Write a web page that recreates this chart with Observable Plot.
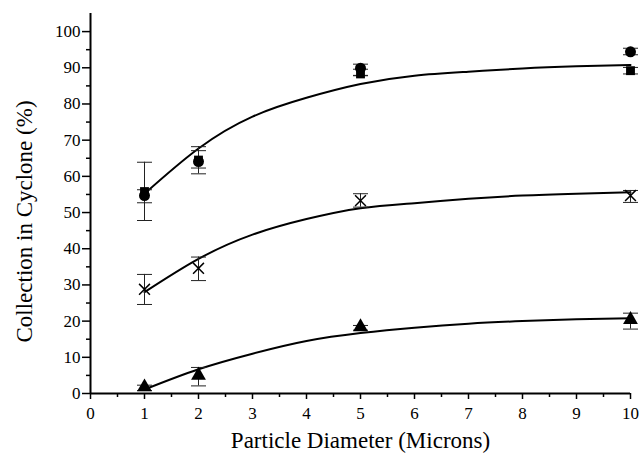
<!DOCTYPE html>
<html>
<head>
<meta charset="utf-8">
<script src="https://cdn.jsdelivr.net/npm/d3@7"></script>
<script src="https://cdn.jsdelivr.net/npm/@observablehq/plot@0.6"></script>
<style>
  html, body { margin: 0; padding: 0; background: #fff; }
  #chart svg, #chart svg text { font-family: "Liberation Serif", "Times New Roman", Tinos, "DejaVu Serif", "Noto Serif", serif !important; }
</style>
</head>
<body>
<div id="chart"></div>
<script>
// Particle diameters (microns)
const diameters = [1, 2, 5, 10];

// Measured collection (%) with error-bar limits, four symbol series
const circleY  = [54.7, 64.1, 89.9, 94.4];
const circleLo = [47.8, 60.7, 87.9, 93.6];
const circleHi = [63.9, 68.2, 91.0, 95.4];

const squareY  = [55.8, 64.5, 88.3, 89.2];
const squareLo = [52.7, 62.3, 87.8, 88.3];
const squareHi = [56.3, 67.1, 89.6, 90.1];

const crossY  = [28.8, 34.6, 53.3, 54.7];
const crossLo = [24.6, 31.2, 51.5, 52.8];
const crossHi = [32.9, 37.7, 55.2, 56.1];

const triY  = [1.8, 5.0, 18.4, 20.4];
const triLo = [0.8, 2.1, 17.5, 17.8];
const triHi = [2.3, 7.2, 18.8, 22.2];

// Fitted curves at integer diameters
const curveX = [1, 2, 3, 4, 5, 6, 7, 8, 9, 10];
const curveTop = [55.2, 67.7, 76.5, 81.7, 85.5, 87.8, 88.9, 89.8, 90.4, 90.8];
const curveMid = [28.0, 37.2, 43.9, 48.2, 51.2, 52.6, 53.8, 54.7, 55.2, 55.6];
const curveLow = [1.1, 6.7, 11.0, 14.5, 16.7, 18.2, 19.3, 20.0, 20.5, 20.8];

// Axis ticks
const xTicks = [0, 1, 2, 3, 4, 5, 6, 7, 8, 9, 10];
const xMinor = [0.5, 1.5, 2.5, 3.5, 4.5, 5.5, 6.5, 7.5, 8.5, 9.5];
const yTicks = [0, 10, 20, 30, 40, 50, 60, 70, 80, 90, 100];
const yMinor = [5, 15, 25, 35, 45, 55, 65, 75, 85, 95];

const xLabel = "Particle Diameter (Microns)";
const yLabel = "Collection in Cyclone (%)";

function pts(ys, lo, hi, s) {
  return diameters.map((x, i) => ({x, y: ys[i], lo: lo[i], hi: hi[i], s}));
}
const circles = pts(circleY, circleLo, circleHi, "circle");
const squares = pts(squareY, squareLo, squareHi, "square");
const crosses = pts(crossY, crossLo, crossHi, "cross");
const tris = pts(triY, triLo, triHi, "triangle");
const allPts = [...circles, ...squares, ...crosses, ...tris];

const curves = [
  ...curveX.map((x, i) => ({x, y: curveTop[i], s: "top"})),
  ...curveX.map((x, i) => ({x, y: curveMid[i], s: "mid"})),
  ...curveX.map((x, i) => ({x, y: curveLow[i], s: "low"}))
];

// horizontal cap symbol for error bars
const capSymbol = {
  draw(context, size) {
    const w = Math.sqrt(size / Math.PI);
    context.moveTo(-w, 0);
    context.lineTo(w, 0);
  }
};

const font = "'Liberation Serif', 'Times New Roman', Tinos, 'DejaVu Serif', serif";

const chart = Plot.plot({
  width: 639,
  height: 453,
  marginLeft: 90,
  marginRight: 9,
  marginTop: 13,
  marginBottom: 60,
  style: {fontFamily: font, background: "#fff", color: "#000"},
  x: {domain: [0, 10]},
  y: {domain: [0, 105]},
  marks: [
    Plot.axisX({ticks: xTicks, tickSize: 6, tickPadding: 7, tickFormat: d => String(d), label: null, fontSize: 17, fontFamily: font, strokeWidth: 1.5}),
    Plot.axisX({ticks: xMinor, tickSize: 4, text: null, label: null, strokeWidth: 1.5}),
    Plot.axisY({ticks: yTicks, tickSize: 8, tickPadding: 2, label: null, fontSize: 17, fontFamily: font, strokeWidth: 1.5}),
    Plot.axisY({ticks: yMinor, tickSize: 4, text: null, label: null, strokeWidth: 1.5}),
    Plot.ruleX([0], {strokeWidth: 2}),
    Plot.ruleY([0], {strokeWidth: 2}),
    Plot.line(curves, {x: "x", y: "y", z: "s", curve: "natural", stroke: "#000", strokeWidth: 2}),
    Plot.ruleX(allPts, {x: "x", y1: "lo", y2: "hi", stroke: "#222", strokeWidth: 1}),
    Plot.dot(allPts, {x: "x", y: "lo", symbol: capSymbol, r: 7.5, fill: "none", stroke: "#222", strokeWidth: 1}),
    Plot.dot(allPts, {x: "x", y: "hi", symbol: capSymbol, r: 7.5, fill: "none", stroke: "#222", strokeWidth: 1}),
    Plot.dot(circles, {x: "x", y: "y", symbol: "circle", r: 5.5, fill: "#000", stroke: "none"}),
    Plot.dot(squares, {x: "x", y: "y", symbol: "square", r: 5, fill: "#000", stroke: "none"}),
    Plot.dot(tris, {x: "x", y: "y", symbol: "triangle", r: 5.5, fill: "#000", stroke: "none"}),
    Plot.dot(crosses, {x: "x", y: "y", symbol: "times", r: 5, fill: "none", stroke: "#000", strokeWidth: 1.5}),
    Plot.text([xLabel], {frameAnchor: "bottom", textAnchor: "middle", lineAnchor: "middle", dy: 47, fontSize: 23, fontFamily: font, text: d => d}),
    Plot.text([yLabel], {frameAnchor: "left", textAnchor: "middle", lineAnchor: "middle", rotate: -90, dx: -66, dy: 18, fontSize: 23, fontFamily: font, text: d => d})
  ]
});
document.getElementById("chart").appendChild(chart);
</script>
</body>
</html>
